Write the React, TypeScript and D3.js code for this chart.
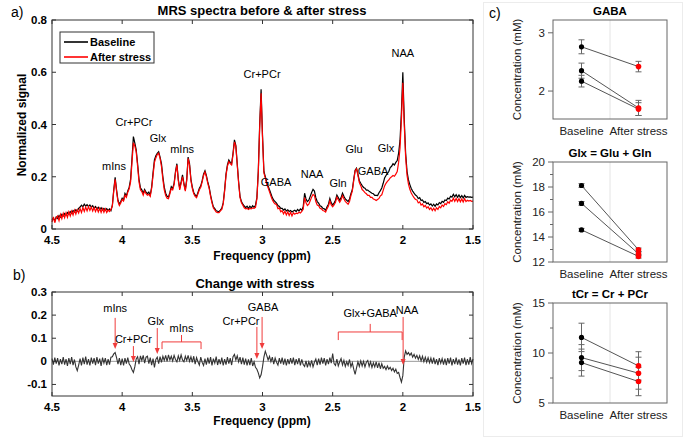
import React, { useEffect, useRef } from "react";
import * as d3 from "d3";

const FONT = "'Liberation Sans', Arial, sans-serif";

// chemical shift of each sample (ppm), 4.5 down to 1.5
const ppm = d3.range(301).map(i => +(4.5 - i * 0.01).toFixed(2));

const baseline = [
  0.035, 0.041, 0.031, 0.046, 0.040, 0.051, 0.045, 0.056, 0.050, 0.059,
  0.053, 0.063, 0.057, 0.067, 0.060, 0.071, 0.065, 0.074, 0.068, 0.079,
  0.084, 0.091, 0.085, 0.095, 0.088, 0.093, 0.086, 0.092, 0.084, 0.089,
  0.079, 0.086, 0.077, 0.083, 0.075, 0.081, 0.073, 0.079, 0.072, 0.078,
  0.071, 0.077, 0.070, 0.090, 0.150, 0.198, 0.150, 0.110, 0.095, 0.105,
  0.118, 0.111, 0.136, 0.127, 0.146, 0.160, 0.190, 0.270, 0.354, 0.330,
  0.303, 0.250, 0.190, 0.158, 0.150, 0.137, 0.151, 0.141, 0.135, 0.141,
  0.130, 0.160, 0.215, 0.265, 0.280, 0.290, 0.296, 0.275, 0.250, 0.200,
  0.160, 0.137, 0.125, 0.122, 0.140, 0.162, 0.155, 0.175, 0.220, 0.250,
  0.190, 0.156, 0.180, 0.207, 0.175, 0.150, 0.190, 0.275, 0.250, 0.190,
  0.160, 0.140, 0.130, 0.125, 0.140, 0.156, 0.165, 0.185, 0.210, 0.223,
  0.205, 0.180, 0.160, 0.130, 0.105, 0.085, 0.078, 0.070, 0.068, 0.066,
  0.072, 0.080, 0.100, 0.150, 0.210, 0.245, 0.264, 0.255, 0.250, 0.290,
  0.341, 0.320, 0.250, 0.180, 0.124, 0.105, 0.095, 0.088, 0.082, 0.087,
  0.079, 0.087, 0.081, 0.089, 0.083, 0.091, 0.120, 0.220, 0.400, 0.535,
  0.360, 0.220, 0.200, 0.180, 0.165, 0.150, 0.135, 0.120, 0.110, 0.105,
  0.099, 0.090, 0.086, 0.079, 0.079, 0.072, 0.077, 0.069, 0.073, 0.067,
  0.071, 0.065, 0.069, 0.072, 0.067, 0.075, 0.069, 0.077, 0.072, 0.085,
  0.137, 0.115, 0.105, 0.110, 0.125, 0.140, 0.152, 0.145, 0.120, 0.105,
  0.099, 0.089, 0.086, 0.079, 0.077, 0.072, 0.085, 0.095, 0.117, 0.100,
  0.092, 0.099, 0.110, 0.130, 0.120, 0.110, 0.120, 0.137, 0.125, 0.115,
  0.110, 0.105, 0.115, 0.135, 0.150, 0.190, 0.225, 0.233, 0.210, 0.185,
  0.175, 0.166, 0.159, 0.156, 0.149, 0.149, 0.144, 0.141, 0.137, 0.135,
  0.129, 0.129, 0.128, 0.139, 0.147, 0.157, 0.175, 0.195, 0.205, 0.213,
  0.220, 0.235, 0.240, 0.250, 0.245, 0.255, 0.262, 0.290, 0.340, 0.450,
  0.600, 0.420, 0.290, 0.220, 0.188, 0.170, 0.155, 0.145, 0.137, 0.130,
  0.126, 0.117, 0.120, 0.109, 0.111, 0.102, 0.105, 0.097, 0.100, 0.092,
  0.096, 0.088, 0.095, 0.087, 0.096, 0.092, 0.101, 0.097, 0.106, 0.102,
  0.111, 0.109, 0.118, 0.115, 0.125, 0.122, 0.133, 0.123, 0.131, 0.121,
  0.130, 0.120, 0.128, 0.119, 0.129, 0.121, 0.124, 0.122, 0.123, 0.121,
  0.122
];

const afterStress = [
  0.026, 0.046, 0.024, 0.044, 0.050, 0.032, 0.056, 0.040, 0.060, 0.043,
  0.062, 0.045, 0.066, 0.050, 0.068, 0.053, 0.072, 0.057, 0.074, 0.061,
  0.078, 0.063, 0.082, 0.067, 0.084, 0.069, 0.086, 0.071, 0.084, 0.069,
  0.082, 0.067, 0.080, 0.065, 0.079, 0.063, 0.078, 0.064, 0.077, 0.063,
  0.073, 0.067, 0.075, 0.088, 0.145, 0.190, 0.145, 0.105, 0.090, 0.100,
  0.113, 0.107, 0.129, 0.121, 0.141, 0.154, 0.180, 0.255, 0.330, 0.318,
  0.295, 0.240, 0.180, 0.150, 0.143, 0.129, 0.146, 0.135, 0.129, 0.133,
  0.125, 0.155, 0.205, 0.255, 0.272, 0.285, 0.290, 0.270, 0.240, 0.190,
  0.150, 0.128, 0.118, 0.116, 0.135, 0.155, 0.150, 0.170, 0.215, 0.245,
  0.185, 0.150, 0.175, 0.200, 0.170, 0.145, 0.185, 0.270, 0.245, 0.185,
  0.155, 0.135, 0.125, 0.120, 0.135, 0.150, 0.160, 0.180, 0.205, 0.218,
  0.200, 0.175, 0.155, 0.125, 0.100, 0.080, 0.073, 0.065, 0.063, 0.063,
  0.069, 0.075, 0.096, 0.145, 0.205, 0.240, 0.258, 0.250, 0.245, 0.285,
  0.333, 0.315, 0.245, 0.175, 0.120, 0.100, 0.091, 0.081, 0.077, 0.079,
  0.075, 0.079, 0.077, 0.081, 0.079, 0.083, 0.115, 0.215, 0.390, 0.520,
  0.350, 0.215, 0.195, 0.172, 0.158, 0.142, 0.126, 0.112, 0.102, 0.096,
  0.094, 0.078, 0.080, 0.066, 0.070, 0.058, 0.068, 0.054, 0.066, 0.052,
  0.064, 0.050, 0.062, 0.057, 0.061, 0.059, 0.064, 0.061, 0.067, 0.075,
  0.120, 0.100, 0.090, 0.095, 0.108, 0.122, 0.132, 0.128, 0.105, 0.092,
  0.089, 0.079, 0.077, 0.071, 0.069, 0.065, 0.078, 0.088, 0.108, 0.092,
  0.085, 0.092, 0.102, 0.122, 0.112, 0.102, 0.112, 0.128, 0.116, 0.106,
  0.100, 0.095, 0.105, 0.128, 0.145, 0.185, 0.222, 0.230, 0.205, 0.178,
  0.166, 0.151, 0.146, 0.139, 0.135, 0.129, 0.129, 0.121, 0.121, 0.115,
  0.113, 0.109, 0.113, 0.117, 0.127, 0.131, 0.148, 0.165, 0.175, 0.182,
  0.188, 0.196, 0.200, 0.205, 0.202, 0.210, 0.220, 0.255, 0.310, 0.420,
  0.560, 0.400, 0.275, 0.205, 0.172, 0.152, 0.138, 0.128, 0.120, 0.113,
  0.112, 0.100, 0.104, 0.092, 0.096, 0.085, 0.090, 0.080, 0.085, 0.075,
  0.081, 0.071, 0.080, 0.070, 0.081, 0.075, 0.086, 0.081, 0.092, 0.086,
  0.097, 0.093, 0.104, 0.099, 0.110, 0.106, 0.118, 0.106, 0.117, 0.105,
  0.116, 0.104, 0.115, 0.103, 0.116, 0.105, 0.110, 0.107, 0.109, 0.106,
  0.107
];

const change = [
  0.012, -0.014, 0.016, -0.010, 0.014, -0.018, 0.010, -0.012, 0.018, -0.014,
  0.010, -0.020, 0.014, -0.012, 0.018, -0.016, 0.008, -0.024, -0.040, -0.016,
  0.012, -0.018, 0.016, -0.012, 0.020, -0.014, 0.010, -0.018, 0.016, -0.010,
  0.014, -0.016, 0.018, -0.010, 0.012, -0.020, 0.016, -0.008, 0.014, -0.016,
  0.010, -0.014, 0.018, 0.020, 0.032, 0.038, 0.016, -0.012, 0.014, -0.016,
  0.012, -0.018, 0.014, -0.010, 0.016, -0.012, -0.020, -0.036, -0.048, -0.024,
  0.010, 0.020, -0.012, 0.024, 0.004, 0.026, -0.008, 0.018, 0.022, -0.010,
  0.016, -0.016, 0.012, -0.026, 0.008, 0.018, -0.010, 0.020, -0.004, 0.022,
  0.004, 0.026, 0.000, 0.028, 0.006, 0.022, 0.002, 0.026, 0.008, -0.002,
  0.024, 0.004, 0.028, 0.006, -0.002, 0.022, 0.004, 0.026, 0.000, 0.020,
  -0.004, 0.022, -0.012, 0.016, -0.002, -0.016, 0.018, -0.004, -0.018, 0.012,
  -0.014, 0.016, -0.010, 0.018, -0.018, 0.012, -0.008, 0.020, -0.016, 0.010,
  -0.012, 0.016, -0.018, 0.010, -0.014, 0.018, -0.010, 0.014, -0.016, 0.020,
  0.030, 0.006, 0.024, -0.002, 0.018, -0.012, 0.016, -0.014, 0.012, -0.018,
  0.008, -0.016, 0.014, -0.020, -0.002, -0.026, -0.034, -0.050, -0.072, -0.058,
  -0.024, 0.018, 0.044, 0.026, 0.006, 0.022, -0.002, 0.018, -0.012, 0.014,
  -0.004, -0.016, 0.014, -0.010, 0.016, -0.014, 0.012, -0.018, 0.010, -0.012,
  0.014, -0.010, 0.016, -0.016, 0.010, -0.012, 0.014, -0.018, 0.008, -0.014,
  -0.022, 0.002, -0.026, -0.002, -0.020, 0.004, -0.024, -0.004, 0.010, -0.016,
  0.012, -0.014, 0.016, -0.010, 0.014, -0.018, 0.010, -0.012, 0.016, -0.008,
  0.034, -0.010, -0.018, 0.010, -0.020, -0.002, 0.012, -0.016, 0.004, -0.022,
  -0.002, -0.018, 0.008, -0.024, -0.006, -0.034, -0.056, -0.028, -0.002, -0.022,
  0.002, -0.020, 0.000, -0.024, -0.004, 0.004, -0.022, -0.002, -0.026, -0.006,
  -0.024, -0.002, -0.028, -0.006, -0.032, -0.010, -0.030, -0.022, -0.036, -0.020,
  -0.034, -0.026, -0.040, -0.030, -0.046, -0.034, -0.052, -0.048, -0.070, -0.090,
  -0.062, 0.018, 0.045, 0.030, 0.038, 0.026, 0.036, 0.018, 0.030, 0.014,
  0.026, 0.008, 0.024, 0.002, 0.022, -0.002, 0.018, -0.004, 0.016, -0.006,
  0.014, -0.010, 0.016, -0.012, 0.010, -0.016, 0.014, -0.008, 0.012, -0.014,
  0.012, -0.016, 0.014, -0.010, 0.016, -0.018, 0.010, -0.012, 0.016, -0.014,
  0.008, -0.018, 0.014, -0.010, 0.016, -0.016, 0.010, -0.014, 0.018, -0.010,
  0.010
];

const ppmTicks = [4.5, 4, 3.5, 3, 2.5, 2, 1.5];
const spectraTicks = [0, 0.2, 0.4, 0.6, 0.8];
const changeTicks = [0.3, 0.2, 0.1, 0, -0.1];

// peak labels of panel a: [text, ppm, signal]
const peakLabels = [
  ["mIns", 4.058, 0.242], ["Cr+PCr", 3.916, 0.41], ["Glx", 3.745, 0.348],
  ["mIns", 3.573, 0.306], ["Cr+PCr", 3.003, 0.593], ["GABA", 2.903, 0.18],
  ["NAA", 2.647, 0.21], ["Gln", 2.462, 0.176], ["Glu", 2.347, 0.306],
  ["GABA", 2.212, 0.222], ["Glx", 2.12, 0.31], ["NAA", 2.0, 0.674]
];

// arrows of panel b: [text, text ppm, text y, arrow ppm, arrow top, arrow tip]
const changeArrows = [
  ["mIns", 4.05, 0.231, 4.05, 0.188, 0.053],
  ["Cr+PCr", 3.92, 0.097, 3.92, 0.066, -0.003],
  ["Glx", 3.76, 0.175, 3.75, 0.144, 0.032],
  ["Cr+PCr", 3.153, 0.175, 3.04, 0.149, 0.01],
  ["GABA", 2.996, 0.235, 3.003, 0.192, 0.053],
  ["NAA", 1.97, 0.222, 1.998, 0.192, -0.016]
];

// brackets of panel b: [text, from ppm, to ppm, bar, ends, stem, text y]
const changeBrackets = [
  ["mIns", 3.716, 3.438, 0.084, 0.053, 0.114, 0.144],
  ["Glx+GABA", 2.46, 2.005, 0.127, 0.092, 0.162, 0.209]
];

const groups = ["Baseline", "After stress"];

const gabaBase = [2.76, 2.35, 2.17];
const gabaBaseErr = [0.12, 0.13, 0.1];
const gabaAfter = [2.42, 1.71, 1.69];
const gabaAfterErr = [0.09, 0.13, 0.11];

const glxBase = [18.12, 16.69, 14.57];
const glxBaseErr = [0.15, 0.15, 0.12];
const glxAfter = [12.98, 12.66, 12.45];
const glxAfterErr = [0.14, 0.15, 0.14];

const tcrBase = [11.56, 9.54, 9.04];
const tcrBaseErr = [1.42, 1.3, 1.35];
const tcrAfter = [8.71, 7.98, 7.15];
const tcrAfterErr = [1.42, 1.6, 1.42];

function frame(g, x, y, xTicks, yTicks) {
  const [xl, xr] = x.range();
  const [yb, yt] = y.range();
  g.append("rect")
    .attr("x", xl).attr("y", yt)
    .attr("width", xr - xl).attr("height", yb - yt)
    .attr("fill", "none").attr("stroke", "#333");

  xTicks.forEach(t => {
    g.append("line").attr("x1", x(t)).attr("x2", x(t)).attr("y1", yb).attr("y2", yb - 4).attr("stroke", "#333");
    g.append("line").attr("x1", x(t)).attr("x2", x(t)).attr("y1", yt).attr("y2", yt + 4).attr("stroke", "#333");
    g.append("text").attr("x", x(t)).attr("y", yb + 15)
      .attr("text-anchor", "middle").attr("font-weight", "bold").attr("font-size", 11.5)
      .text(String(t));
  });
  yTicks.forEach(t => {
    g.append("line").attr("x1", xl).attr("x2", xl + 4).attr("y1", y(t)).attr("y2", y(t)).attr("stroke", "#333");
    g.append("line").attr("x1", xr).attr("x2", xr - 4).attr("y1", y(t)).attr("y2", y(t)).attr("stroke", "#333");
    g.append("text").attr("x", xl - 5).attr("y", y(t)).attr("dy", "0.35em")
      .attr("text-anchor", "end").attr("font-weight", "bold").attr("font-size", 11.5)
      .text(String(t));
  });
}

function arrowHead(g, px, py) {
  g.append("path")
    .attr("d", `M${px},${py}L${px - 2.5},${py - 6}L${px + 2.5},${py - 6}Z`)
    .attr("fill", "#f03c3c");
}

function pairPanel(g, opts) {
  const x = d3.scaleLinear().domain([0.5, 2.5]).range([553, 667]);
  const y = d3.scaleLinear().domain(opts.domain).range([opts.bottom, opts.top]);
  const mid = (opts.top + opts.bottom) / 2;

  g.append("line").attr("x1", x(1.5)).attr("x2", x(1.5))
    .attr("y1", opts.top).attr("y2", opts.bottom).attr("stroke", "#e4e4e4");
  g.append("rect").attr("x", 553).attr("y", opts.top)
    .attr("width", 114).attr("height", opts.bottom - opts.top)
    .attr("fill", "none").attr("stroke", "#666");

  opts.ticks.forEach(t => {
    g.append("line").attr("x1", 553).attr("x2", 548).attr("y1", y(t)).attr("y2", y(t)).attr("stroke", "#666");
    g.append("text").attr("x", 545).attr("y", y(t)).attr("dy", "0.35em")
      .attr("text-anchor", "end").attr("font-size", 11.5).attr("fill", "#222")
      .text(String(t));
  });
  opts.minor.forEach(t => {
    g.append("line").attr("x1", 553).attr("x2", 550).attr("y1", y(t)).attr("y2", y(t)).attr("stroke", "#666");
  });

  g.append("text").attr("x", 610).attr("y", opts.top - 5)
    .attr("text-anchor", "middle").attr("font-weight", "bold").attr("font-size", 11.5)
    .text(opts.title);
  g.append("text")
    .attr("transform", `translate(521,${mid}) rotate(-90)`)
    .attr("text-anchor", "middle").attr("font-size", 11.5).attr("fill", "#222")
    .text("Concentration (mM)");
  groups.forEach((name, i) => {
    g.append("text").attr("x", x(i + 1)).attr("y", opts.bottom + 16)
      .attr("text-anchor", "middle").attr("font-size", 11.5).attr("fill", "#222")
      .text(name);
  });

  const errs = [opts.baseErr, opts.afterErr];
  [opts.base, opts.after].forEach((vals, k) => {
    vals.forEach((v, i) => {
      const e = errs[k][i];
      const cx = x(k + 1);
      g.append("line").attr("x1", cx).attr("x2", cx).attr("y1", y(v - e)).attr("y2", y(v + e)).attr("stroke", "#666");
      [v - e, v + e].forEach(c => {
        g.append("line").attr("x1", cx - 3).attr("x2", cx + 3).attr("y1", y(c)).attr("y2", y(c)).attr("stroke", "#666");
      });
    });
  });
  opts.base.forEach((v, i) => {
    g.append("line").attr("x1", x(1)).attr("x2", x(2))
      .attr("y1", y(v)).attr("y2", y(opts.after[i])).attr("stroke", "#555");
  });
  opts.base.forEach(v => {
    g.append("circle").attr("cx", x(1)).attr("cy", y(v)).attr("r", 2.6).attr("fill", "#000");
  });
  opts.after.forEach(v => {
    g.append("circle").attr("cx", x(2)).attr("cy", y(v)).attr("r", 2.8).attr("fill", "#f00");
  });
}

export default function App() {
  const ref = useRef(null);

  useEffect(() => {
    drawChart();
  }, []);

  function drawChart() {
    const svg = d3.select(ref.current);
    svg.selectAll("*").remove();
    const g = svg.append("g").attr("font-family", FONT);

    // a) spectra
    const xa = d3.scaleLinear().domain([4.5, 1.5]).range([52, 473]);
    const ya = d3.scaleLinear().domain([0, 0.8]).range([229, 20]);
    const line = d3.line().x((d, i) => xa(ppm[i])).y(d => ya(d));

    g.append("path").datum(baseline).attr("d", line).attr("fill", "none").attr("stroke", "#000").attr("stroke-width", 1.2);
    g.append("path").datum(afterStress).attr("d", line).attr("fill", "none").attr("stroke", "#f00").attr("stroke-width", 1.2);
    frame(g, xa, ya, ppmTicks, spectraTicks);

    peakLabels.forEach(p => {
      g.append("text").attr("x", xa(p[1])).attr("y", ya(p[2])).attr("dy", "0.35em")
        .attr("text-anchor", "middle").attr("font-size", 11).text(p[0]);
    });

    g.append("text").attr("x", 262).attr("y", 15).attr("text-anchor", "middle")
      .attr("font-weight", "bold").attr("font-size", 13).text("MRS spectra before & after stress");
    g.append("text").attr("x", 262).attr("y", 260).attr("text-anchor", "middle")
      .attr("font-weight", "bold").attr("font-size", 12).text("Frequency (ppm)");
    g.append("text").attr("transform", "translate(26,125) rotate(-90)").attr("text-anchor", "middle")
      .attr("font-weight", "bold").attr("font-size", 12).text("Normalized signal");
    g.append("text").attr("x", 11).attr("y", 17).attr("font-size", 14).text("a)");

    // legend
    const leg = g.append("g");
    leg.append("rect").attr("x", 60).attr("y", 32).attr("width", 94).attr("height", 31)
      .attr("fill", "#fff").attr("stroke", "#333");
    [["Baseline", "#000", 42], ["After stress", "#f00", 57]].forEach(([name, c, ly]) => {
      leg.append("line").attr("x1", 64).attr("x2", 88).attr("y1", ly).attr("y2", ly).attr("stroke", c).attr("stroke-width", 1.6);
      leg.append("text").attr("x", 90).attr("y", ly).attr("dy", "0.35em")
        .attr("font-weight", "bold").attr("font-size", 11).text(name);
    });

    // b) difference spectrum
    const yb = d3.scaleLinear().domain([-0.15, 0.3]).range([396, 292]);
    const dline = d3.line().x((d, i) => xa(ppm[i])).y(d => yb(d));
    g.append("line").attr("x1", 52).attr("x2", 473).attr("y1", yb(0)).attr("y2", yb(0)).attr("stroke", "#999");
    g.append("path").datum(change).attr("d", dline).attr("fill", "none").attr("stroke", "#333").attr("stroke-width", 1.1);
    frame(g, xa, yb, ppmTicks, changeTicks);

    const red = "#f03c3c";
    changeArrows.forEach(a => {
      g.append("text").attr("x", xa(a[1])).attr("y", yb(a[2])).attr("dy", "0.35em")
        .attr("text-anchor", "middle").attr("font-size", 11).text(a[0]);
      g.append("line").attr("x1", xa(a[3])).attr("x2", xa(a[3]))
        .attr("y1", yb(a[4])).attr("y2", yb(a[5]) - 4).attr("stroke", red);
      arrowHead(g, xa(a[3]), yb(a[5]));
    });
    changeBrackets.forEach(b => {
      const x0 = xa(b[1]), x1 = xa(b[2]), xm = (x0 + x1) / 2;
      g.append("path")
        .attr("d", `M${x0},${yb(b[4])}V${yb(b[3])}H${x1}V${yb(b[4])}M${xm},${yb(b[3])}V${yb(b[5])}`)
        .attr("fill", "none").attr("stroke", red);
      g.append("text").attr("x", xm).attr("y", yb(b[6])).attr("dy", "0.35em")
        .attr("text-anchor", "middle").attr("font-size", 11).text(b[0]);
    });

    g.append("text").attr("x", 255).attr("y", 288).attr("text-anchor", "middle")
      .attr("font-weight", "bold").attr("font-size", 13).text("Change with stress");
    g.append("text").attr("x", 262).attr("y", 425).attr("text-anchor", "middle")
      .attr("font-weight", "bold").attr("font-size", 12).text("Frequency (ppm)");
    g.append("text").attr("x", 13).attr("y", 280).attr("font-size", 14).text("b)");

    // c) concentrations
    g.append("rect").attr("x", 483.5).attr("y", 2.5).attr("width", 199).attr("height", 434)
      .attr("fill", "none").attr("stroke", "#ececec");
    g.append("text").attr("x", 489).attr("y", 18).attr("font-size", 14).text("c)");

    pairPanel(g, {
      title: "GABA", top: 20, bottom: 119, domain: [1.52, 3.22], ticks: [2, 3], minor: [],
      base: gabaBase, baseErr: gabaBaseErr, after: gabaAfter, afterErr: gabaAfterErr
    });
    pairPanel(g, {
      title: "Glx = Glu + Gln", top: 162, bottom: 262, domain: [12, 20],
      ticks: [12, 14, 16, 18, 20], minor: [13, 15, 17, 19],
      base: glxBase, baseErr: glxBaseErr, after: glxAfter, afterErr: glxAfterErr
    });
    pairPanel(g, {
      title: "tCr = Cr + PCr", top: 303, bottom: 403, domain: [5, 15],
      ticks: [5, 10, 15], minor: [7.5, 12.5],
      base: tcrBase, baseErr: tcrBaseErr, after: tcrAfter, afterErr: tcrAfterErr
    });
  }

  return (
    <svg
      ref={ref}
      width={685}
      height={440}
      style={{ position: "absolute", left: 0, top: 0, background: "#fff" }}
    />
  );
}
